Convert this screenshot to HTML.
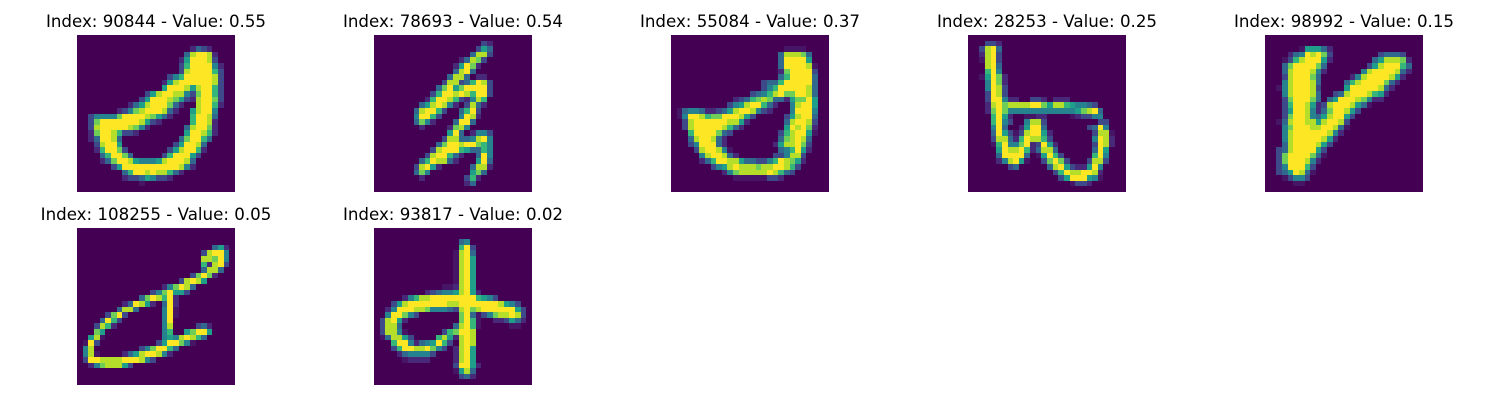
<!DOCTYPE html>
<html>
<head>
<meta charset="utf-8">
<title>Top activations</title>
<style>
html,body{margin:0;padding:0;background:#fff;width:1500px;height:400px;overflow:hidden}
svg{display:block}
text{font-family:"DejaVu Sans","Liberation Sans",sans-serif;font-size:16.67px;fill:#000;text-anchor:middle}
</style>
</head>
<body>
<svg id="chart" width="1500" height="400" viewBox="0 0 1500 400" xmlns="http://www.w3.org/2000/svg"></svg>
<script>
const sampleIndices = [90844, 78693, 55084, 28253, 98992, 108255, 93817];
const sampleValues = ["0.55", "0.54", "0.37", "0.25", "0.15", "0.05", "0.02"];
const intensity90844 = [
[],
[],
[0,0,0,0,0,0,0,0,0,0,0,0,0,0,0,0,0,0,0,0,1,3,2,1],
[0,0,0,0,0,0,0,0,0,0,0,0,0,0,0,0,0,0,0,3,8,9,9,8,1],
[0,0,0,0,0,0,0,0,0,0,0,0,0,0,0,0,0,0,1,5,9,9,9,8,2],
[0,0,0,0,0,0,0,0,0,0,0,0,0,0,0,0,0,0,2,6,9,9,9,9,4,1],
[0,0,0,0,0,0,0,0,0,0,0,0,0,0,0,0,0,0,2,8,9,9,9,9,6,2],
[0,0,0,0,0,0,0,0,0,0,0,0,0,0,0,0,2,4,6,9,9,9,9,9,8,2],
[0,0,0,0,0,0,0,0,0,0,0,0,0,0,0,1,5,8,9,9,9,9,9,9,8,2],
[0,0,0,0,0,0,0,0,0,0,0,0,0,0,0,5,9,9,9,8,5,8,9,9,6,2],
[0,0,0,0,0,0,0,0,0,0,0,0,2,5,8,9,9,8,8,4,2,7,9,9,6,2],
[0,0,0,0,0,0,0,0,0,0,0,2,5,9,9,9,8,7,5,2,1,8,9,9,7,2],
[0,0,0,0,0,0,0,0,0,1,3,5,8,9,9,9,7,3,1,0,0,8,9,9,6,1],
[0,0,0,0,0,0,0,1,2,4,7,8,9,9,9,8,3,1,0,0,5,8,9,9,4],
[0,0,2,4,4,4,4,7,9,9,9,9,8,7,5,3,1,0,0,0,6,9,9,8,3],
[0,0,2,7,9,9,9,9,9,9,9,8,5,2,1,0,0,0,0,0,6,9,9,8,1],
[0,0,2,8,9,9,9,9,9,8,7,4,1,0,0,0,0,0,0,3,8,9,9,7,1],
[0,0,1,7,9,9,8,6,2,2,1,0,0,0,0,0,0,0,0,5,9,9,8,6,1],
[0,0,1,3,9,9,8,3,0,0,0,0,0,0,0,0,0,0,3,7,9,9,6,3],
[0,0,0,2,8,9,9,5,0,0,0,0,0,0,0,0,0,2,5,9,9,8,3],
[0,0,0,1,6,9,9,7,2,0,0,0,0,0,0,0,2,5,8,9,9,6,1],
[0,0,0,0,3,6,9,9,7,3,0,0,0,0,0,2,6,9,9,9,5,2],
[0,0,0,0,1,3,7,9,9,8,5,4,4,4,5,8,9,9,9,8,3],
[0,0,0,0,0,0,2,5,9,9,9,9,9,9,9,9,9,9,8,4,1],
[0,0,0,0,0,0,0,0,3,6,9,9,8,9,8,8,6,3,1],
[0,0,0,0,0,0,0,0,1,2,2,3,5,4,2,2,1],
[0,0,0,0,0,0,0,0,0,0,0,0.5],
[]
];
const intensity78693 = [
[],
[0,0,0,0,0,0,0,0,0,0,0,0,0,0,0,0,0,0,0,2,1],
[0,0,0,0,0,0,0,0,0,0,0,0,0,0,0,0,0,0,2,5,3],
[0,0,0,0,0,0,0,0,0,0,0,0,0,0,0,0,0,3,8,8,2],
[0,0,0,0,0,0,0,0,0,0,0,0,0,0,0,1,3,8,7,2],
[0,0,0,0,0,0,0,0,0,0,0,0,0,0,1,5,9,7,1],
[0,0,0,0,0,0,0,0,0,0,0,0,0,0,3,8,9,3],
[0,0,0,0,0,0,0,0,0,0,0,0,0,3,8,8,3,0,1,1],
[0,0,0,0,0,0,0,0,0,0,0,0,2,8,8,2,3,6,9,8,2],
[0,0,0,0,0,0,0,0,0,0,0,3,7,9,5,7,9,9,9,9,2],
[0,0,0,0,0,0,0,0,0,0,2,6,9,9,8,9,8,6,9,9,2],
[0,0,0,0,0,0,0,0,0,1,6,9,9,8,6,2,1,4,8,6],
[0,0,0,0,0,0,0,0,3,5,8,9,8,4,1,0,2,8,3,1],
[0,0,0,0,0,0,0,3,8,9,9,6,2,0,0,3,6,9,2],
[0,0,0,0,0,0,0,4,9,9,6,2,0,0,0,4,9,8,1],
[0,0,0,0,0,0,0,3,7,4,1,0,0,0,3,9,9,3],
[0,0,0,0,0,0,0,0,1,0,0,0,0,1,7,8,4],
[0,0,0,0,0,0,0,0,0,0,0,0,0,5,9,3,0,1,4,4,2],
[0,0,0,0,0,0,0,0,0,0,0,0,2,8,8,3,3,4,8,9,4],
[0,0,0,0,0,0,0,0,0,0,0,3,7,9,9,8,9,9,7,6,4],
[0,0,0,0,0,0,0,0,0,0,2,8,9,9,9,6,5,3,3,6,4],
[0,0,0,0,0,0,0,0,0,2,8,9,9,6,3,1,0,0,3,9,4],
[0,0,0,0,0,0,0,0,3,6,9,8,8,3,1,0,0,0,5,9,3],
[0,0,0,0,0,0,0,2,8,9,5,1,0,0,0,0,0,3,8,8,1],
[0,0,0,0,0,0,0,3,7,4,0,0,0,0,0,0,0,5,7,3],
[0,0,0,0,0,0,0,0,1,0,0,0,0,0,0,0,2,6,1],
[0,0,0,0,0,0,0,0,0,0,0,0,0,0,0,0,1,3],
[]
];
const intensity55084 = [
[],
[],
[0,0,0,0,0,0,0,0,0,0,0,0,0,0,0,0,0,0,0,0,0.5,0.5,0.5,0.5],
[0,0,0,0,0,0,0,0,0,0,0,0,0,0,0,0,0,0,0,3,8,8,8,7,3],
[0,0,0,0,0,0,0,0,0,0,0,0,0,0,0,0,0,0,0,3,9,9,9,9,5],
[0,0,0,0,0,0,0,0,0,0,0,0,0,0,0,0,0,0,0,3,9,9,9,9,8,0.5],
[0,0,0,0,0,0,0,0,0,0,0,0,0,0,0,0,0,0,0,1,7,9,9,9,9,2],
[0,0,0,0,0,0,0,0,0,0,0,0,0,0,0,0,0,0,0,3,6,9,9,9,9,3],
[0,0,0,0,0,0,0,0,0,0,0,0,0,0,0,0,2,3,3,6,9,9,9,9,9,3],
[0,0,0,0,0,0,0,0,0,0,0,0,0,0,0,0,2,4,6,9,9,9,9,9,8,3],
[0,0,0,0,0,0,0,0,0,0,0,0,0,0,2,3,4,6,8,9,7,7,9,9,8,3],
[0,0,0,0,0,0,0,0,0,0,0,1,2,3,6,7,8,7,3,3,1,5,7,7,9,5],
[0,0,0,0,0,0,0,0,0,0,2,4,5,8,9,9,6,3,1,0,0,4,8,9,9,5],
[0,0.5,3,4,4,3,1,1,2,3,5,8,9,9,8,4,2,1,0,0,0,4,9,9,9,4],
[0,0.5,4,9,9,8,6,7,7,9,9,9,8,5,2,0,0,0,0,0,2,5,8,9,9,3],
[0,0,2,8,9,9,9,9,9,9,8,8,5,1,0,0,0,0,0,0,3,8,9,9,8,2],
[0,0,2,8,9,9,9,9,9,8,6,3,1,0,0,0,0,0,0,0,5,9,8,9,7,1],
[0,0,0,6,9,9,9,9,7,3,2,0,0,0,0,0,0,0,0,2,6,8,9,9,5,0.5],
[0,0,0,3,8,9,9,8,3,1,0,0,0,0,0,0,0,0,0,3,7,8,9,8,3],
[0,0,0,2,4,9,9,9,3,1,0,0,0,0,0,0,0,0,1,5,8,8,9,7,2],
[0,0,0,0,2,8,9,9,8,4,0.5,0,0,0,0,0,0,0,0,3,4,6,9,5,1],
[0,0,0,0,0,4,8,9,9,8,3,1,0,0,0,0,0,0,2,2,4,8,8,2],
[0,0,0,0,0,1,3,6,9,9,8,8,5,3,3,2,2,4,6,9,8,7,5,1],
[0,0,0,0,0,0,0,2,4,5,8,9,8,8,8,7,8,8,9,9,8,6,2],
[0,0,0,0,0,0,0,0,0,1,4,7,8,8,8,8,8,9,8,6,3,2],
[0,0,0,0,0,0,0,0,0,0,0,0.5,0.5,0.5,0.5,0.5,0.5,2,2,1],
[],
[]
];
const intensity28253 = [
[],
[0,0,0,2,2,1],
[0,0,2,8,9,3],
[0,0,1,8,9,2],
[0,0,0.5,8,9,2],
[0,0,0,8,9,3],
[0,0,0,6,9,4],
[0,0,0.5,5,9,7,1],
[0,0,0,4,9,7,1],
[0,0,0,4,9,8,2],
[0,0,0,2,9,8,2],
[0,0,0,2,9,9,4,1,1,0,0,2,2,1,0,1,1,1],
[0,0,0,1,8,9,7,8,8,8,8,9,9,7,5,8,8,6,5,4,4,3,2],
[0,0,0,1,7,9,7,4,4,4,4,4,4,4,4,4,4,4,4,5,7,8,9,3],
[0,0,0,0,6,9,5,1,0,0,0.5,0.5,1,1,0,0,0,0,0.5,1,2,2,4,4],
[0,0,0,0,6,9,4,2,0,0,4,8,8,2,0,0,0,0,0,0,0,0,0,2,2],
[0,0,0,0,4,9,3,0,0,1,5,9,9,3,0,0,0,0,0,0,0,2,3,9,4],
[0,0,0,0,3,9,5,2,0.5,2,8,9,9,5,1,0,0,0,0,0,0,0,2,8,8,0.5],
[0,0,0,0,2,8,8,3,1,6,9,8,8,6,2,0,0,0,0,0,0,0,4,9,8,1],
[0,0,0,0,0.5,6,9,4,4,7,9,1,2,9,5,1,0,0,0,0,0,0,2,9,8,1],
[0,0,0,0,0,5,9,8,8,9,6,1,3,8,8,3,0,0,0,0,0,0,3,9,5],
[0,0,0,0,0,3,9,9,9,9,3,0,0.5,5,9,6,2,0,0,0,0,0,6,9,4],
[0,0,0,0,0,1,4,8,9,5,0.5,0,0,2,7,9,7,2,0,0,0,2,8,8,2],
[0,0,0,0,0,0,0,2,3,0,0,0,0,0,3,8,9,5,2,1,1,5,9,4],
[0,0,0,0,0,0,0,0,0,0,0,0,0,0,0,2,6,9,8,8,9,9,8,1],
[0,0,0,0,0,0,0,0,0,0,0,0,0,0,0,0,2,5,9,9,9,5,4,0.5],
[0,0,0,0,0,0,0,0,0,0,0,0,0,0,0,0,0,0,0.5,2,2,1],
[]
];
const intensity98992 = [
[],
[],
[0,0,0,0,0,0,0.5,5,5,5,3,1],
[0,0,0,0,1,3,4,9,8,9,7,2,0,0,0,0,0,0,0,0,2,3,3,3,2],
[0,0,0,0.5,2,6,8,9,9,9,5,1,0,0,0,0,0,0,0,3,5,8,8,8,7,1],
[0,0,0,3,7,9,9,9,9,7,3,0,0,0,0,0,0,0,2,5,8,9,9,9,6,3],
[0,0,0,3,8,9,9,9,8,4,1,0,0,0,0,0,0,4,8,9,9,9,9,8,3,1],
[0,0,0,2,8,9,9,9,7,3,0,0,0,0,0,1,4,8,9,9,9,9,8,5,1],
[0,0,0,4,8,9,9,9,8,3,0,0,0,0,3,6,8,9,9,9,9,7,3,1],
[0,0,0.5,4,8,9,9,9,8,2,0,0,0,0,5,9,9,9,9,9,8,3,1],
[0,0,0,4,8,9,9,9,8,3,0,0,2,3,8,9,9,9,8,6,5,1],
[0,0,0,2,7,9,9,9,7,3,0,3,5,9,9,9,8,7,4,1,1],
[0,0,0,2,6,9,9,8,5,1,2,8,9,9,9,8,5,3,0.5],
[0,0,0,2,5,9,9,8,4,1,3,7,9,9,8,5,2],
[0,0,0,2,7,9,9,8,4,3,5,8,9,9,5,2],
[0,0,0.5,3,8,9,9,8,8,5,8,9,9,8,2],
[0,0,0,4,7,9,9,9,8,8,9,9,8,3,0.5],
[0,0,0,4,8,9,9,9,9,9,9,8,4,1],
[0,0,0,4,8,9,9,9,9,9,8,5,1],
[0,0,0,3,8,9,9,9,9,8,5,2],
[0,0,2,3,8,9,9,9,9,5,2],
[0,0,2,7,9,9,9,9,7,3,0.5],
[0,0,2,7,9,9,9,8,4,1],
[0,0,2,4,9,9,9,6,2],
[0,0,2,3,5,9,8,3,0.5],
[0,0,0,0.5,2,4,4,2],
[0,0,0,0,0,0.5,0.5],
[]
];
const intensity108255 = [
[],
[],
[],
[0,0,0,0,0,0,0,0,0,0,0,0,0,0,0,0,0,0,0,0,0,0,0,0,3,5,1],
[0,0,0,0,0,0,0,0,0,0,0,0,0,0,0,0,0,0,0,0,0,0,2,8,9,9,4],
[0,0,0,0,0,0,0,0,0,0,0,0,0,0,0,0,0,0,0,0,0,0,8,8,7,9,4],
[0,0,0,0,0,0,0,0,0,0,0,0,0,0,0,0,0,0,0,0,0,0,6,1,8,9,2],
[0,0,0,0,0,0,0,0,0,0,0,0,0,0,0,0,0,0,0,0,0,0,3,8,8,3],
[0,0,0,0,0,0,0,0,0,0,0,0,0,0,0,0,0,0,0,0,2,7,9,7,1],
[0,0,0,0,0,0,0,0,0,0,0,0,0,0,0,0,0,0,2,8,9,8,5],
[0,0,0,0,0,0,0,0,0,0,0,0,0,0,0,1,4,7,9,8,3],
[0,0,0,0,0,0,0,0,0,0,0,0,0,2,4,7,9,5,5,2],
[0,0,0,0,0,0,0,0,0,0,0,3,7,9,8,6,9,1],
[0,0,0,0,0,0,0,0,1,3,9,8,5,1,0,3,9,1],
[0,0,0,0,0,0,0,3,8,8,3,0,0,0,0,4,9,0.5],
[0,0,0,0,0,2,7,9,2,0,0,0,0,0,0,4,9,0.5],
[0,0,0,0,3,9,6,2,0,0,0,0,0,0,0,4,9],
[0,0,0,2,8,6,1,0,0,0,0,0,0,0,0,4,8,0,0,0,0,2,3,1],
[0,0,0,7,5,0,0,0,0,0,0,0,0,0,0,4,6,0,0,5,7,9,9,5],
[0,0,5,8,0.5,0,0,0,0,0,0,0,0,0,0,4,5,4,8,9,8,6,3],
[0,0.5,9,2,0,0,0,0,0,0,0,0,0,0,2,5,9,9,7,4,0.5],
[0,4,8,0,0,0,0,0,0,0,0,2,4,7,9,9,6,3],
[0,4,8,0.5,0,0,0,0,1,3,5,8,9,9,8,4,1],
[0,2,9,9,8,8,8,8,9,9,9,8,4,2],
[0,0,1,4,7,8,8,8,5,2],
[],
[],
[]
];
const intensity93817 = [
[],
[],
[0,0,0,0,0,0,0,0,0,0,0,0,0,0,0,3,4],
[0,0,0,0,0,0,0,0,0,0,0,0,0,0,0,6,9,2],
[0,0,0,0,0,0,0,0,0,0,0,0,0,0,0.5,8,9,3],
[0,0,0,0,0,0,0,0,0,0,0,0,0,0,0.5,8,9,5],
[0,0,0,0,0,0,0,0,0,0,0,0,0,0,0.5,8,9,5],
[0,0,0,0,0,0,0,0,0,0,0,0,0,0,0.5,8,9,5],
[0,0,0,0,0,0,0,0,0,0,0,0,0,0,0.5,8,9,5],
[0,0,0,0,0,0,0,0,0,0,0,0,0,0,0.5,8,9,5],
[0,0,0,0,0,0,0,0,0,0,0,0,0.5,0.5,1,8,9,5],
[0,0,0,0,0,0,0,0,0,1,2,3,4,4,5,8,9,5,1],
[0,0,0,0,0,1,4,6,8,8,9,9,9,9,9,9,9,9,6,5,4,2],
[0,0,0,2,5,8,9,9,9,9,9,9,9,8,8,9,9,9,9,9,9,9,8,5,4,2],
[0,0,1,4,9,9,9,8,8,7,4,4,4,3,2,8,9,7,8,9,9,9,9,9,9,5,2],
[0,0,4,9,9,7,4,2,0,0,0,0,0,0,0,7,9,3,0.5,2,4,7,8,8,9,8,2],
[0,2,8,9,5,1,0,0,0,0,0,0,0,0,0,7,9,6,0.5,0,0,1,1,2,5,3,1],
[0,2,8,8,3,0,0,0,0,0,0,0,0,0,3,8,9,6,0.5,0,0,0,0,0,0.5,0.5],
[0,2,8,8,4,0.5,0,0,0,0,0,0,2,6,7,9,9,8],
[0,0.5,3,8,8,5,2,0,0,0,0,6,8,5,1,8,9,8],
[0,0,0,6,9,9,4,1,3,4,5,9,6,2,0,8,9,8],
[0,0,0,2,6,9,9,8,8,9,7,4,2,0,1,8,9,5],
[0,0,0,0,1,3,4,4,4,4,2,0,0,0,1,8,9,5],
[0,0,0,0,0,0.5,1,1,1,1,0,0,0,0,1,8,9,5],
[0,0,0,0,0,0,0,0,0,0,0,0,0,0,2,9,9,5,1],
[0,0,0,0,0,0,0,0,0,0,0,0,0,0,0.5,5,8,3],
[0,0,0,0,0,0,0,0,0,0,0,0,0,0,0,2,3,1],
[]
];
const sampleGrids = [intensity90844, intensity78693, intensity55084, intensity28253, intensity98992, intensity108255, intensity93817];

const gridSize = 28;
const colsPerRow = 5;
const firstLeft = 77, stepX = 297, firstTop = 35, stepY = 193, panelW = 158, panelH = 157;
const ramp = ["#440154","#482878","#3e4989","#31688e","#26828e","#1f9e89","#35b779","#6ece58","#b5de2b","#fde725"];
const NS = "http://www.w3.org/2000/svg";
const svg = document.getElementById("chart");

function hexToRgb(h){ return [1,3,5].map(function(i){ return parseInt(h.substr(i,2),16); }); }
function colorFor(v){
  const t = Math.max(0, Math.min(9, v));
  const lo = Math.floor(t), hi = Math.min(9, lo + 1), f = t - lo;
  const a = hexToRgb(ramp[lo]), b = hexToRgb(ramp[hi]);
  return "rgb(" + a.map(function(x, i){ return Math.round(x + (b[i] - x) * f); }).join(",") + ")";
}
function xScale(panelLeft, c){ return Math.round(panelLeft + c * panelW / gridSize); }
function yScale(panelTop, r){ return Math.round(panelTop + r * panelH / gridSize); }

sampleGrids.forEach(function(grid, p){
  const left = firstLeft + (p % colsPerRow) * stepX;
  const top = firstTop + Math.floor(p / colsPerRow) * stepY;
  const title = document.createElementNS(NS, "text");
  
  
  title.setAttribute("x", left + panelW / 2);
  title.setAttribute("y", top - 8);
  title.textContent = "Index: " + sampleIndices[p] + " - Value: " + sampleValues[p];
  svg.appendChild(title);
  const g = document.createElementNS(NS, "g");
  
  
  g.setAttribute("shape-rendering", "crispEdges");
  for (let r = 0; r < gridSize; r++) {
    const row = grid[r] || [];
    for (let c = 0; c < gridSize; c++) {
      const v = row[c] === undefined ? 0 : row[c];
      const cell = document.createElementNS(NS, "rect");
      
      
      const x0 = xScale(left, c), x1 = xScale(left, c + 1);
      const y0 = yScale(top, r), y1 = yScale(top, r + 1);
      cell.setAttribute("x", x0);
      cell.setAttribute("y", y0);
      cell.setAttribute("width", x1 - x0);
      cell.setAttribute("height", y1 - y0);
      cell.setAttribute("fill", colorFor(v));
      g.appendChild(cell);
    }
  }
  svg.appendChild(g);
});
</script>
</body>
</html>
